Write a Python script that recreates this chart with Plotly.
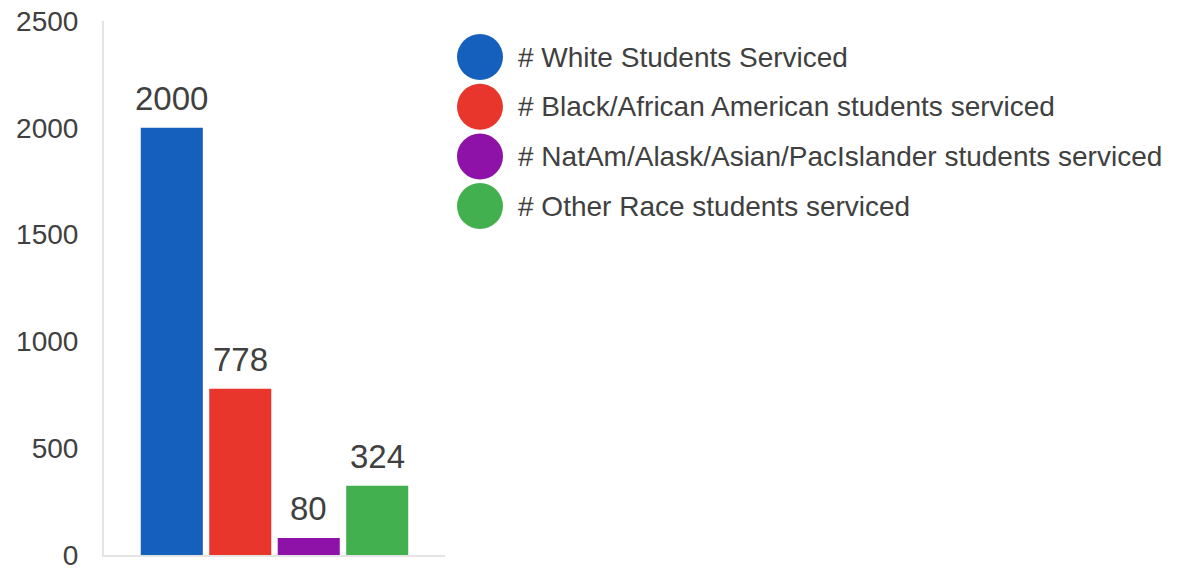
import plotly.graph_objects as go

# Data
series_names = [
    "# White Students Serviced",
    "# Black/African American students serviced",
    "# NatAm/Alask/Asian/PacIslander students serviced",
    "# Other Race students serviced",
]
student_counts = [2000, 778, 80, 324]
series_colors = ["#1560BD", "#E8362D", "#8E12A7", "#42B04E"]
y_ticks = [0, 500, 1000, 1500, 2000, 2500]

W, H = 1186, 570
PLOT_L, PLOT_R, PLOT_T, PLOT_B = 104, 445, 21, 555
FONT = "Arial, Liberation Sans, sans-serif"
TEXT = "#404040"


def px_to_paper(px, py):
    return ((px - PLOT_L) / (PLOT_R - PLOT_L), (PLOT_B - py) / (PLOT_B - PLOT_T))


fig = go.Figure()

for i, (name, val, col) in enumerate(zip(series_names, student_counts, series_colors)):
    fig.add_trace(go.Bar(
        x=[i], y=[val], name=name, width=0.906,
        marker=dict(color=col, line=dict(width=0)),
        showlegend=False, hoverinfo="name+y",
    ))
    # value label above bar
    fig.add_annotation(
        x=i, y=val, xref="x", yref="y", text=str(val), showarrow=False,
        yanchor="bottom", yshift=9, font=dict(size=33, color=TEXT, family=FONT),
    )

# custom legend with big round markers
for k, (name, col) in enumerate(zip(series_names, series_colors)):
    cy = 57 + k * 49.7
    mx, my = px_to_paper(480, cy)
    fig.add_shape(
        type="circle", xref="paper", yref="paper",
        xsizemode="pixel", ysizemode="pixel", xanchor=mx, yanchor=my,
        x0=-23, x1=23, y0=-23, y1=23,
        fillcolor=col, line=dict(width=0),
    )
    tx, ty = px_to_paper(516, cy)
    fig.add_annotation(
        x=tx, y=ty, xref="paper", yref="paper", text=name, showarrow=False,
        xanchor="left", yanchor="middle",
        font=dict(size=28, color=TEXT, family=FONT),
    )

fig.update_layout(
    width=W, height=H,
    margin=dict(l=PLOT_L, r=W - PLOT_R, t=PLOT_T, b=H - PLOT_B, pad=0),
    paper_bgcolor="#ffffff", plot_bgcolor="#ffffff",
    font=dict(family=FONT, color=TEXT),
    barmode="overlay",
    showlegend=False,
)
fig.update_xaxes(
    range=[-0.99, 3.99], showticklabels=False, showgrid=False, zeroline=False,
    showline=True, linecolor="#e4e4e4", linewidth=2, ticks="", automargin=False,
)
fig.update_yaxes(
    range=[0, 2500], tickvals=y_ticks, showgrid=False, zeroline=False,
    showline=True, linecolor="#e4e4e4", linewidth=2, ticks="",
    ticklabelstandoff=18, ticklabeloverflow="allow", automargin=False,
    tickfont=dict(size=28, color=TEXT, family=FONT),
)

# drop the default page margin so the figure sits at the window corner
fig.write_html(
    "out.html",
    config={"displayModeBar": False},
    post_script="document.body.style.margin='0';",
)
